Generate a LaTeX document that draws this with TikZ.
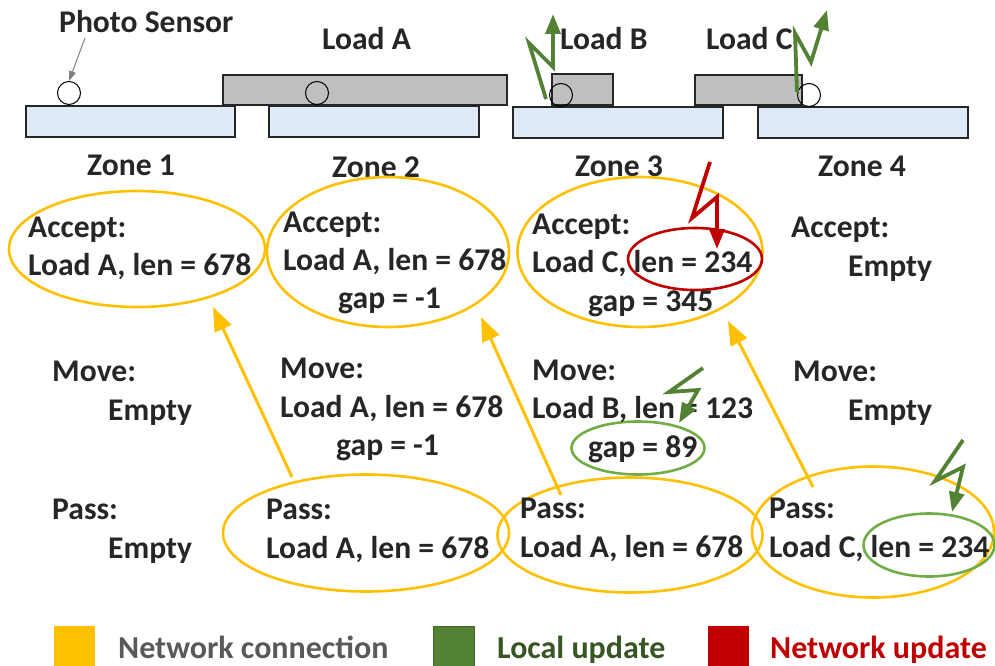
\documentclass[tikz,border=0pt]{standalone}
\usepackage{fontspec}
\setmainfont{Carlito}
\usetikzlibrary{arrows.meta,shapes.geometric}
\definecolor{netc}{HTML}{FFC000}
\definecolor{locg}{HTML}{548235}
\definecolor{locl}{HTML}{70AD47}
\definecolor{netu}{HTML}{C00000}
\definecolor{dark}{HTML}{262626}
\definecolor{greyt}{HTML}{595959}
\definecolor{zonef}{HTML}{DEEBF7}
\definecolor{loadf}{HTML}{BFBFBF}
\definecolor{loct}{HTML}{375623}
\begin{document}
\begin{tikzpicture}[x=1pt,y=-1pt,
  txt/.style={anchor=base west, inner sep=0pt, font=\fontsize{31.6}{36}\selectfont\bfseries, text=dark},
  zonebox/.style={draw=dark, line width=1.4pt, fill=zonef},
  loadbox/.style={draw=dark, line width=1.4pt, fill=loadf},
  sensor/.style={circle, draw=black, line width=1pt, fill=none, minimum size=23pt, inner sep=0pt},
  oell/.style={ellipse, draw=netc, line width=2.6pt, inner sep=0pt},
  gell/.style={ellipse, draw=locl, line width=2.6pt, inner sep=0pt},
  rell/.style={ellipse, draw=netu, line width=2.6pt, inner sep=0pt},
  netarrow/.style={draw=netc, line width=3pt, -{Triangle[length=24pt,width=18pt]}},
  gbolt/.style={draw=locg, line width=3.8pt, -{Triangle[length=20pt,width=15pt]}},
  rbolt/.style={draw=netu, line width=3.8pt, -{Triangle[length=20pt,width=15pt]}},
  legbox/.style={minimum width=41pt, minimum height=42pt, inner sep=0pt, anchor=north west},
  legtxt/.style={anchor=base west, inner sep=0pt, font=\fontsize{32}{36}\selectfont\bfseries}]
\useasboundingbox (0,0) rectangle (995,666);

% zone conveyors
\draw[zonebox] (26,106) rectangle (235,137);
\draw[zonebox] (269,106) rectangle (479,137);
\draw[zonebox] (513,107) rectangle (723,138);
\draw[zonebox] (758,107) rectangle (968,138);
% loads
\draw[loadbox] (223,75) rectangle (507,105);
\draw[loadbox] (552,74) rectangle (613,105);
\draw[loadbox] (695,75) rectangle (802,105);
% sensors
\node[sensor] (s1) at (69,93) {};
\node[sensor] (s2) at (317,93) {};
\node[sensor] (s3) at (561,95) {};
\node[sensor] (s4) at (809,95) {};

% top labels
\node[txt] (ps) at (59,33) {Photo Sensor};
\coordinate (psa) at (85,38);
\draw[draw=gray, line width=1pt, -{Triangle[length=10pt,width=7pt]}] (psa) -- (s1.north);
\node[txt] (la) at (322,50) {Load A};
\node[txt] (lb) at (560,50) {Load B};
\node[txt] (lc) at (706,50) {Load C};

% zone labels
\node[txt] (z1) at (87,175) {Zone 1};
\node[txt] (z2) at (332,177) {Zone 2};
\node[txt] (z3) at (575,176) {Zone 3};
\node[txt] (z4) at (818,176) {Zone 4};

% local update bolts on top
\coordinate (b1a) at (546,99);
\coordinate (b1b) at (529,43);
\coordinate (b1c) at (553,67);
\coordinate (b1d) at (553,14);
\draw[gbolt] (b1a) -- (b1b) -- (b1c) -- (b1d);
\coordinate (b2a) at (797,92);
\coordinate (b2b) at (795,33);
\coordinate (b2c) at (811,62);
\coordinate (b2d) at (827,10);
\draw[gbolt] (b2a) -- (b2b) -- (b2c) -- (b2d);

% accept ellipses
\node[oell, minimum width=256pt, minimum height=116pt] (acc1) at (137,249) {};
\node[oell, minimum width=242pt, minimum height=150pt] (acc2) at (388,252) {};
\node[oell, minimum width=245pt, minimum height=150pt] (acc3) at (640,252) {};
\node[rell, minimum width=134pt, minimum height=62pt] (red1) at (695,259) {};
% pass ellipses
\node[oell, minimum width=286pt, minimum height=117pt] (pas2) at (366,533) {};
\node[oell, minimum width=265pt, minimum height=115pt] (pas3) at (630,535) {};
\node[oell, minimum width=242pt, minimum height=131pt] (pas4) at (873,532) {};
% green ellipses
\node[gell, minimum width=133pt, minimum height=53pt] (gr1) at (638,448) {};
\node[gell, minimum width=131pt, minimum height=63pt] (gr2) at (929,545) {};

% accept texts
\node[txt] (t1a) at (28,237) {Accept:};
\node[txt] (t1b) at (28,275) {Load A, len = 678};
\node[txt] (t2a) at (283,232) {Accept:};
\node[txt] (t2b) at (283,270) {Load A, len = 678};
\node[txt] (t2c) at (338,308) {gap = -1};
\node[txt] (t3a) at (532,234) {Accept:};
\node[txt] (t3b) at (532,272) {Load C, len = 234};
\node[txt] (t3c) at (588,311) {gap = 345};
\node[txt] (t4a) at (791,237) {Accept:};
\node[txt] (t4b) at (848,276) {Empty};

% move texts
\node[txt] (m1a) at (52,381) {Move:};
\node[txt] (m1b) at (108,420) {Empty};
\node[txt] (m2a) at (280,378) {Move:};
\node[txt] (m2b) at (280,417) {Load A, len = 678};
\node[txt] (m2c) at (336,455) {gap = -1};
\node[txt] (m3a) at (532,380) {Move:};
\node[txt] (m3b) at (532,418) {Load B, len = 123};
\node[txt] (m3c) at (588,457) {gap = 89};
\node[txt] (m4a) at (793,381) {Move:};
\node[txt] (m4b) at (848,420) {Empty};

% pass texts
\node[txt] (p1a) at (52,519) {Pass:};
\node[txt] (p1b) at (108,558) {Empty};
\node[txt] (p2a) at (266,519) {Pass:};
\node[txt] (p2b) at (266,558) {Load A, len = 678};
\node[txt] (p3a) at (520,518) {Pass:};
\node[txt] (p3b) at (520,557) {Load A, len = 678};
\node[txt] (p4a) at (769,518) {Pass:};
\node[txt] (p4b) at (769,557) {Load C, len = 234};

% network connection arrows
\coordinate (n1s) at (292,477);
\coordinate (n1e) at (213,307);
\draw[netarrow] (n1s) -- (n1e);
\coordinate (n2s) at (561,495);
\coordinate (n2e) at (481,317);
\draw[netarrow] (n2s) -- (n2e);
\coordinate (n3s) at (813,487);
\coordinate (n3e) at (728,321);
\draw[netarrow] (n3s) -- (n3e);

% network update bolt
\coordinate (r1a) at (710,162);
\coordinate (r1b) at (692,218);
\coordinate (r1c) at (717,197);
\coordinate (r1d) at (717,249);
\draw[rbolt] (r1a) -- (r1b) -- (r1c) -- (r1d);

% local update bolts in table
\coordinate (g1a) at (703,368);
\coordinate (g1b) at (669,392);
\coordinate (g1c) at (698,390);
\coordinate (g1d) at (679,423);
\draw[gbolt] (g1a) -- (g1b) -- (g1c) -- (g1d);
\coordinate (g2a) at (963,440);
\coordinate (g2b) at (935,481);
\coordinate (g2c) at (963,467);
\coordinate (g2d) at (952,512);
\draw[gbolt] (g2a) -- (g2b) -- (g2c) -- (g2d);

% legend
\node[legbox, fill=netc] (lg1) at (54,626) {};
\node[legtxt, text=greyt] (lt1) at (118,658) {Network connection};
\node[legbox, fill=locg, draw=locg!80!black, line width=0.8pt] (lg2) at (433,626) {};
\node[legtxt, text=loct] (lt2) at (497,658) {Local update};
\node[legbox, fill=netu] (lg3) at (708,626) {};
\node[legtxt, text=netu] (lt3) at (770,658) {Network update};
\end{tikzpicture}
\end{document}
